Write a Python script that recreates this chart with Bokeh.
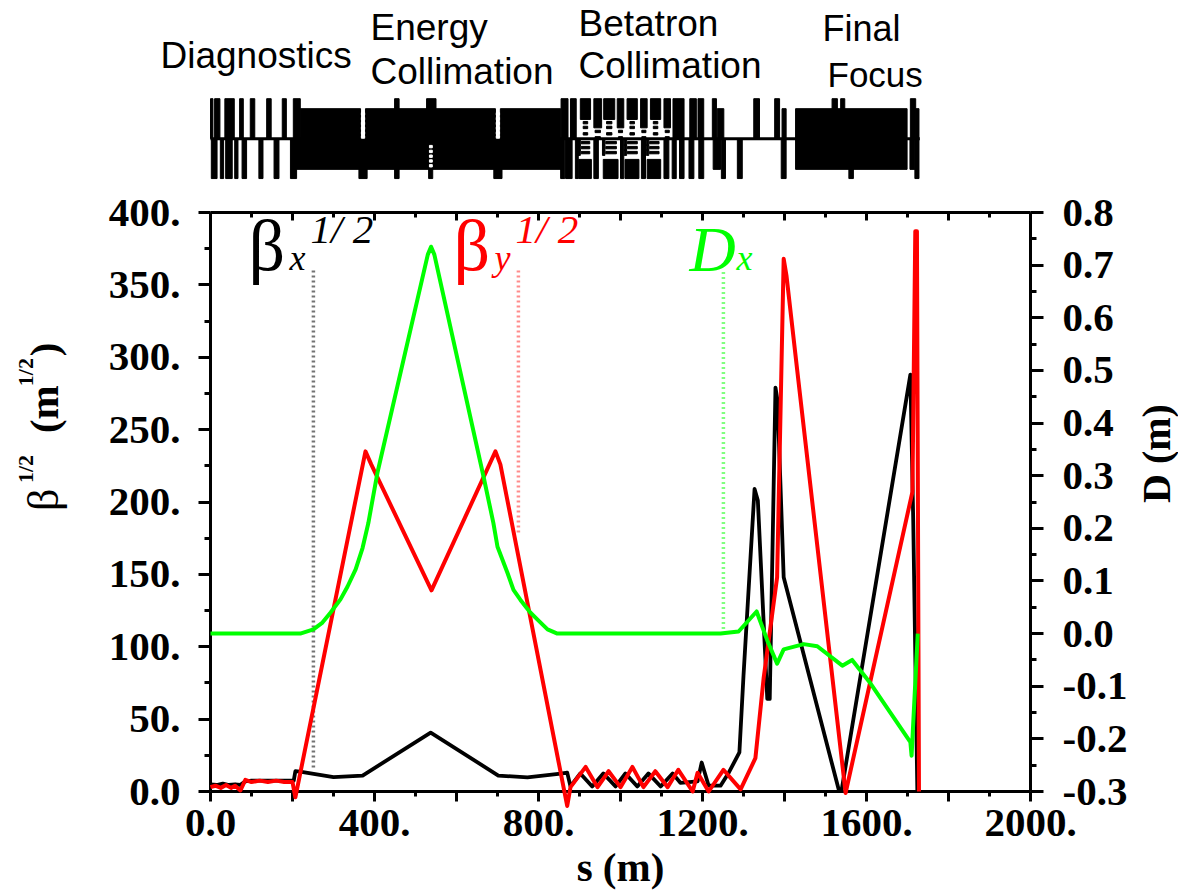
from bokeh.plotting import figure
from bokeh.embed import file_html
from bokeh.resources import INLINE
from bokeh.core.properties import value
from bokeh.models import Range1d, LinearAxis, FixedTicker
import math

# ---- data -------------------------------------------------------
s_bx = [0,15,30,45,60,72,85,100,130,160,195,203,207,222,300,371,537,702,773,854,870,878,902,931,958,988,1012,1041,1068,1098,1127,1146,1188,1198,1215,1244,1264,1290,1300,1327,1335,1358,1364,1378,1383,1398,1532,1540,1707,1714,1724]
bx   = [5,4.5,5.5,4.5,5,4.5,7,7.5,7.5,7.5,7.5,7.5,14,13.5,10,11,40.7,11,9.7,12.4,13,3.5,12.5,3.5,12.5,3.5,12.5,3.5,12.5,3.5,12.5,6,7,20,4,4,13,27,80,209,201,64,64,279,270,148,1.5,2,288,187,0]
s_by = [0,12,25,38,50,60,73,85,100,120,140,160,180,200,207,378,392,539,695,707,870,878,915,944,971,1000,1029,1056,1085,1115,1141,1176,1188,1215,1251,1293,1329,1349,1382,1398,1405,1431,1549,1712,1719,1723,1728]
by   = [3,4,2.5,4.5,2.5,4,0.7,8,6.5,7.5,6.5,7.5,6.5,6.5,-4,235,226,139,235,226,-10,3,17,3,14,3,17,3,14,3,15,0,13,0,15,1.5,23,78,148,368,356,291,-1,207,387,387,0]
s_dx = [0,219,251,273,293,317,334,354,371,385,407,530,538,546,666,690,700,724,739,756,780,797,822,846,1195,1244,1288,1332,1358,1382,1398,1447,1480,1541,1565,1610,1707,1710,1725]
dx   = [0,0,.008,.021,.04,.065,.089,.122,.163,.21,.305,.72,.735,.72,.298,.21,.165,.116,.083,.064,.04,.027,.008,0,0,0,.004,.042,-.013,-.057,-.03,-.02,-.024,-.061,-.05,-.095,-.206,-.232,0]

x_major = [0,200,400,600,800,1000,1200,1400,1600,1800,2000]
x_minor = [100,300,500,700,900,1100,1300,1500,1700,1900]
x_labels = {0:"0.0",200:"",400:"400.",600:"",800:"800.",1000:"",1200:"1200.",1400:"",1600:"1600.",1800:"",2000:"2000."}
y_major = [0,50,100,150,200,250,300,350,400]
y_minor = [25,75,125,175,225,275,325,375]
y_labels = {0:"0.0",50:"50.",100:"100.",150:"150.",200:"200.",250:"250.",300:"300.",350:"350.",400:"400."}
d_major = [-.3,-.2,-.1,0,.1,.2,.3,.4,.5,.6,.7,.8]
d_minor = [-.25,-.15,-.05,.05,.15,.25,.35,.45,.55,.65,.75]
d_labels = {-.3:"-0.3",-.2:"-0.2",-.1:"-0.1",0:"0.0",.1:"0.1",.2:"0.2",.3:"0.3",.4:"0.4",.5:"0.5",.6:"0.6",.7:"0.7",.8:"0.8"}

# lattice elements: (s start, s end), strength +1 .. -1 about the centre line
up_tall = [(0,6),(10,23),(35,58),(71,80),(97,108),(137,148),(175,185),(202,219),(449,460),(527,550),(855,872),(878,892),
           (1128,1155),(1169,1185),(1189,1203),(1224,1234),(1325,1339),(1376,1388),(1516,1529),(1537,1547),(1707,1720)]
up_block = [(219,366),(378,695),(707,854),(1236,1252),(1394,1404),(1427,1699),(1720,1728)]
up_a = [(902,927),(959,986),(1016,1041),(1073,1098)]    # +1 to +0.48
up_b = [(935,954),(992,1008),(1049,1065),(1106,1122)]   # +1 to +0.27
lo_tall = [(2,16),(24,32),(37,53),(59,67),(77,88),(118,128),(155,167),(195,210),(362,382),(449,460),(532,542),(691,711),
           (854,864),(866,882),(890,897),(935,946),(1000,1008),(1051,1061),(1106,1118),(1126,1136),(1144,1155),(1167,1179),(1191,1203),
           (1246,1256),(1285,1297),(1392,1404),(1557,1568),(1718,1728)]
lo_block = [(210,860),(1226,1244),(1427,1699),(1706,1718)]
lo_c = [(898,929),(958,994),(1011,1045),(1065,1098)]    # -0.52 to -1
dash_up = [.40,.28,.12]
dash_lo = [-.10,-.225,-.35]
gap_up = [(368,376),(697,705)]
gap_lo = [(534,541)]
gap_levels_up = [.62,.5,.38,.26,.14,.04]
gap_levels_lo = [-.2,-.32,-.44,-.56,-.68]
label_texts = ["Diagnostics","Energy","Collimation","Betatron","Collimation","Final","Focus"]

# ---- main figure --------------------------------------------------
L0, R0, T0, B0 = 210, 1030, 212, 792     # frame edges in picture pixels
W, H = 1178, 892
p = figure(width=W, height=H, output_backend="svg", toolbar_location=None,
           x_range=Range1d(0,2000), y_range=Range1d(0,400),
           min_border_left=L0, min_border_right=W-R0, min_border_top=T0, min_border_bottom=H-B0)
p.grid.visible = False
p.outline_line_color = None
CY, UNIT = 138, 40
p.extra_y_ranges = {"d": Range1d(-.3,.8),
                    "lat": Range1d((CY-B0)/UNIT,(CY-T0)/UNIT),
                    "pgy": Range1d(B0,T0)}
p.extra_x_ranges = {"pgx": Range1d(L0,R0)}

F = "Liberation Serif"
TS = "41px"
AW = 3
def style(ax, major, minor, labels, mi, mo, ni, no):
    ax.ticker = FixedTicker(ticks=major, minor_ticks=minor)
    ax.major_label_overrides = labels
    ax.axis_line_width = AW; ax.major_tick_line_width = AW; ax.minor_tick_line_width = AW
    ax.major_tick_in = mi; ax.major_tick_out = mo; ax.minor_tick_in = ni; ax.minor_tick_out = no
    ax.major_label_text_font = F
    ax.major_label_text_font_style = "bold"
    ax.major_label_text_font_size = TS
    ax.major_label_text_color = "black"

xa = p.xaxis[0]
style(xa, x_major, x_minor, x_labels, 0, 10, 0, 5)
xa.major_label_standoff = 8
xa.axis_label = "s (m)"
xa.axis_label_text_font = F
xa.axis_label_text_font_style = "bold"
xa.axis_label_text_font_size = TS
xa.axis_label_text_color = "black"
xa.axis_label_standoff = 5
style(p.yaxis[0], y_major, y_minor, y_labels, 0, 12, 0, 6)
p.yaxis[0].major_label_standoff = 18
ax_t = LinearAxis(); style(ax_t, x_major, x_minor, {t:"" for t in x_major}, 8, 0, 5, 0)
p.add_layout(ax_t, "above")
ax_r = LinearAxis(y_range_name="d"); style(ax_r, d_major, d_minor, d_labels, 0, 13, 0, 6)
ax_r.major_label_standoff = 19
p.add_layout(ax_r, "right")

# ---- lattice strip -------------------------------------------------
def bars(items, u0, u1, color="black"):
    p.quad(left=[a for a,b in items], right=[b for a,b in items], top=[u0]*len(items), bottom=[u1]*len(items),
           y_range_name="lat", fill_color=color, line_color=color, line_width=1, level="overlay")
p.line([0,1730],[0,0],y_range_name="lat",line_color="black",line_width=3,level="overlay")
bars(up_tall, 1, 0)
bars(up_block, .75, 0)
bars(up_a, 1, .48)
bars(up_b, 1, .27)
bars(lo_tall, 0, -1)
bars(lo_block, 0, -.77)
bars(lo_c, -.52, -1)
for u in dash_up:
    bars([(a+7,b-7) for a,b in up_a], u+.03, u-.03)
for u in dash_up[1:]:
    bars([(a+3,b-3) for a,b in up_b], u-.07, u-.13)
for u in dash_lo:
    bars([(a+6,b-4) for a,b in lo_c], u+.03, u-.03)
    bars([(a-2,a+4) for a,b in lo_c], u+.07, u-.07)
for u in gap_levels_up:
    bars(gap_up, u+.03, u-.03, "white")
for u in gap_levels_lo:
    bars(gap_lo, u+.03, u-.03, "white")

# ---- dotted guides --------------------------------------------------
DOT = "2 3"
p.line([251,251],[360,15],line_color="black",line_width=3.5,line_dash=DOT,line_alpha=.55)
p.line([751,751],[360,178],line_color="#ff0000",line_width=3.5,line_dash=DOT,line_alpha=.45)
p.line([1251,1251],[.687,0],y_range_name="d",line_color="#00ff00",line_width=3.5,line_dash=DOT,line_alpha=.5)

# ---- curves ----------------------------------------------------------
p.line(s_bx,bx,line_color="black",line_width=3.8,line_join="round",level="overlay")
p.line(s_by,by,line_color="#ff0000",line_width=4,line_join="round",level="overlay")
p.line(s_dx,dx,y_range_name="d",line_color="#00ff00",line_width=4,line_join="round",level="overlay")

# ---- texts -----------------------------------------------------------
A = math.pi/2
def lab(txt, px, py, size, color="black", style_="normal", font=F, angle=0):
    # the anchor of this text sits about .35 em above its baseline
    if angle:
        px = px - .35*size
    else:
        py = py - .35*size
    p.text(x=[px], y=[py], x_range_name="pgx", y_range_name="pgy", text=[txt],
           text_font=value(font), text_font_size=value(f"{size}px"), text_font_style=style_,
           text_color=color, text_baseline="alphabetic", angle=angle, level="overlay")
for txt,px,py,sz in zip(label_texts,[160,370,370,578,578,822,827],[68,40,84,36,78,40,86],[37,37,37,37,37,36,35]):
    lab(txt,px,py,sz,font="Liberation Sans")
lab("β",248,271,72)
lab("x",289,270,36,style_="italic")
lab("1/ 2",310,243,41,style_="italic")
lab("β",453,271,72,color="#ff0000")
lab("y",494,270,36,color="#ff0000",style_="italic")
lab("1/ 2",515,243,41,color="#ff0000",style_="italic")
lab("D",689,271,64,color="#00ff00",style_="italic")
lab("x",736,270,36,color="#00ff00",style_="italic")
lab("β",58,511,44,angle=A)
lab("1/2",33,483,22,style_="bold",angle=A)
lab("(m",58,433,41,style_="bold",angle=A)
lab("1/2",33,386,22,style_="bold",angle=A)
lab(")",58,356,41,style_="bold",angle=A)
lab("D (m)",1170,503,40,style_="bold",angle=A)

open("out.html","w").write(file_html(p,INLINE))
